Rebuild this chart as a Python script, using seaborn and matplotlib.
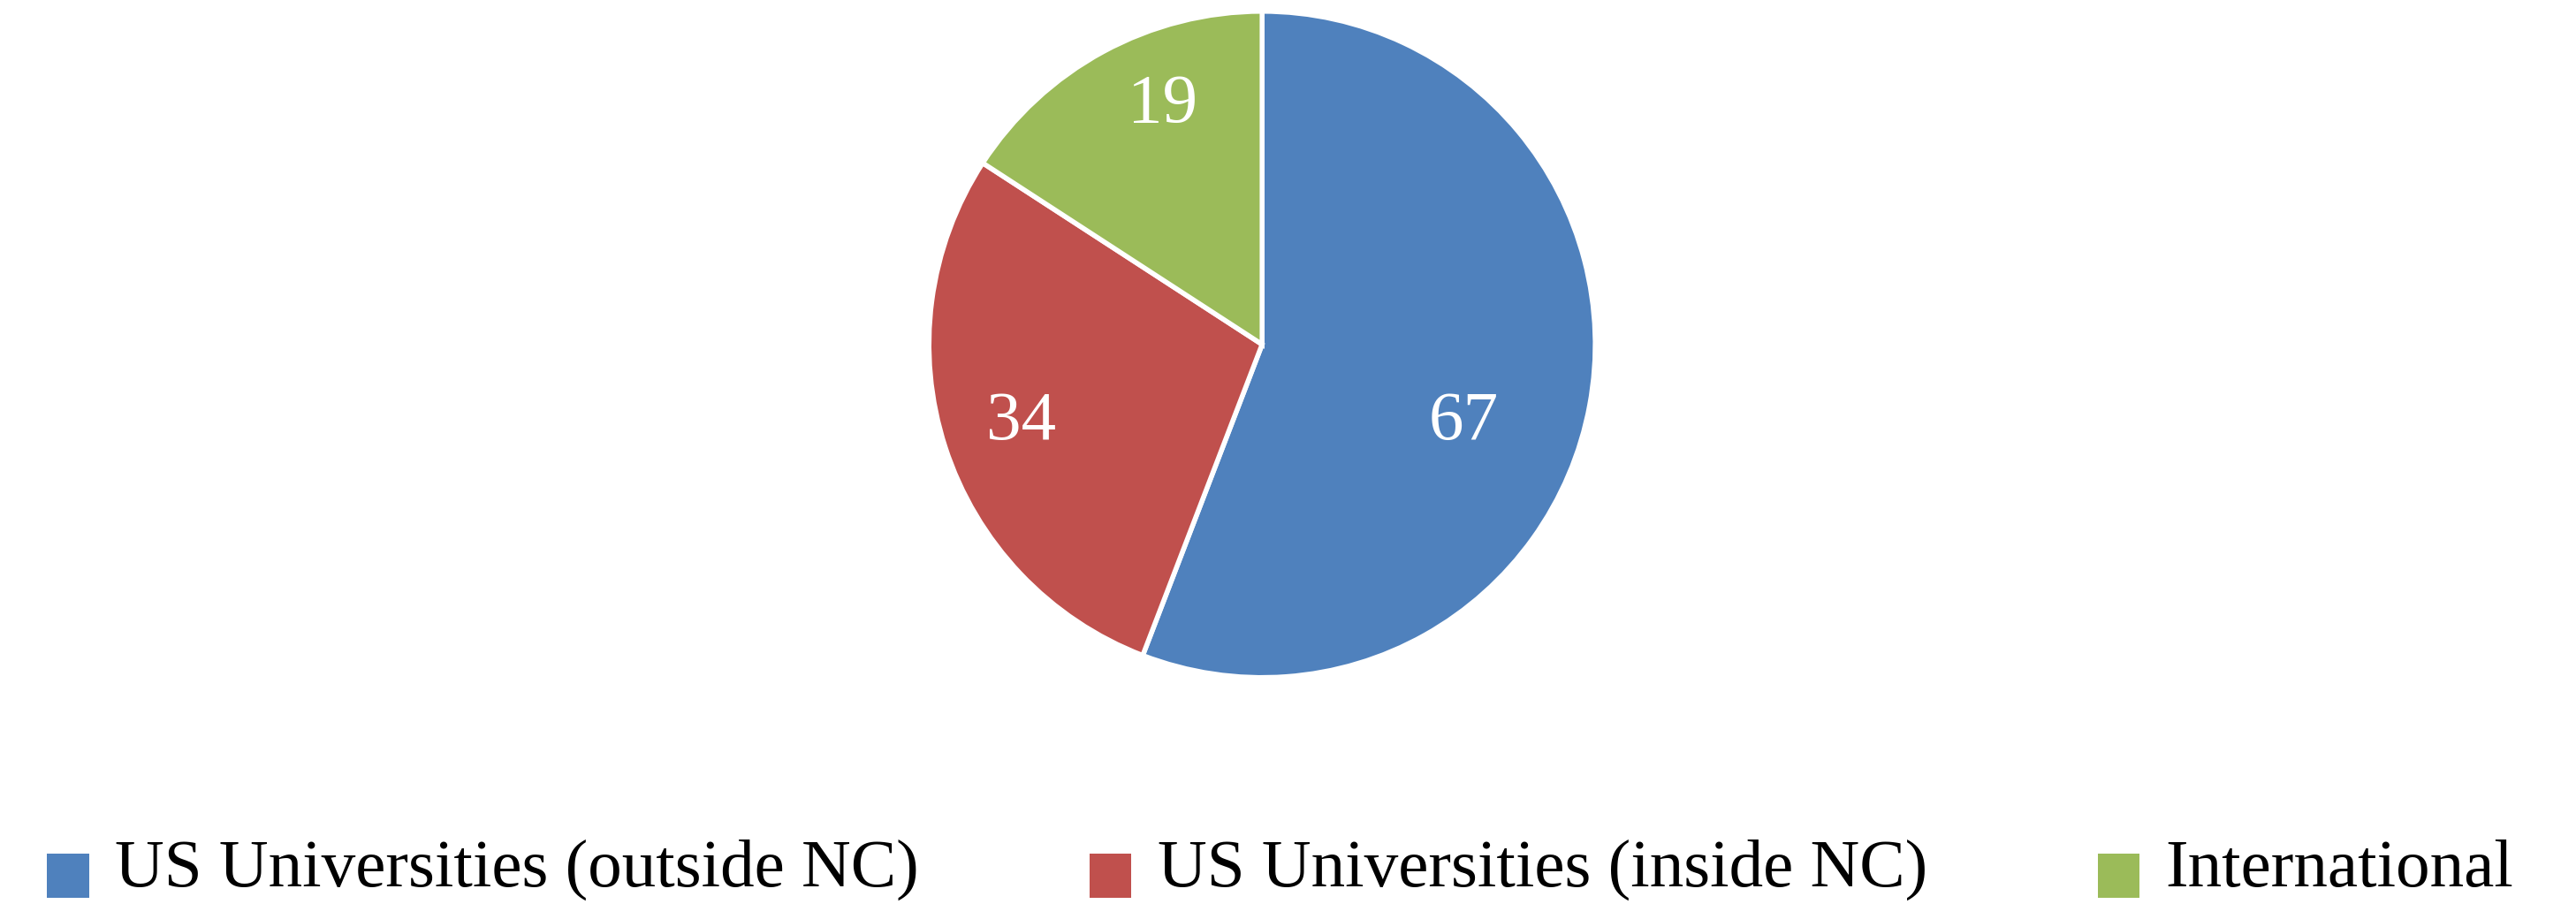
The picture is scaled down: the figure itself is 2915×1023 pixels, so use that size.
import matplotlib
matplotlib.use("Agg")
import matplotlib.pyplot as plt
from matplotlib.patches import Rectangle
from matplotlib.legend_handler import HandlerPatch
import seaborn as sns

categories = ["US Universities (outside NC)", "US Universities (inside NC)", "International"]
counts = [67, 34, 19]
colors = ["#4F81BD", "#C0504D", "#9BBB59"]
# label anchor positions (fraction of radius) for the value labels
label_pos = [(0.606, -0.234), (-0.724, -0.234), (-0.30, 0.717)]

sns.set_theme(style="white")
plt.rcParams["font.family"] = ["Liberation Serif", "DejaVu Serif"]

fig = plt.figure(figsize=(29.15, 10.23), dpi=100)
ax = fig.add_axes([0.3606, 0.2505, 0.2587, 0.737])
wedges, texts = ax.pie(counts, colors=colors, startangle=90, counterclock=False,
                       labels=[str(c) for c in counts], labeldistance=0.7,
                       wedgeprops=dict(edgecolor="white", linewidth=4))
for t, (x, y) in zip(texts, label_pos):
    t.set_position((x, y))
    t.set_ha("center")
    t.set_va("center")
    t.set_color("white")
    t.set_fontsize(57)
ax.set_xlim(-1.0, 1.0)
ax.set_ylim(-1.0, 1.0)
ax.set_aspect("equal")
ax.axis("off")


def low_square(legend, orig_handle, xdescent, ydescent, width, height, fontsize):
    return Rectangle((-xdescent, -ydescent - 0.3 * height), width, height)


handles = [Rectangle((0, 0), 1, 1, facecolor=c, edgecolor="none") for c in colors]
leg = fig.legend(handles, categories, loc="lower center", bbox_to_anchor=(0.497, 0.0),
                 ncol=3, frameon=False, fontsize=55.5, handlelength=0.62, handleheight=0.62,
                 handletextpad=0.38, columnspacing=2.5, borderpad=0.05, borderaxespad=0,
                 handler_map={Rectangle: HandlerPatch(patch_func=low_square)})
for t in leg.get_texts():
    t.set_color("black")
fig.savefig("out.png", dpi=100, facecolor="white")
